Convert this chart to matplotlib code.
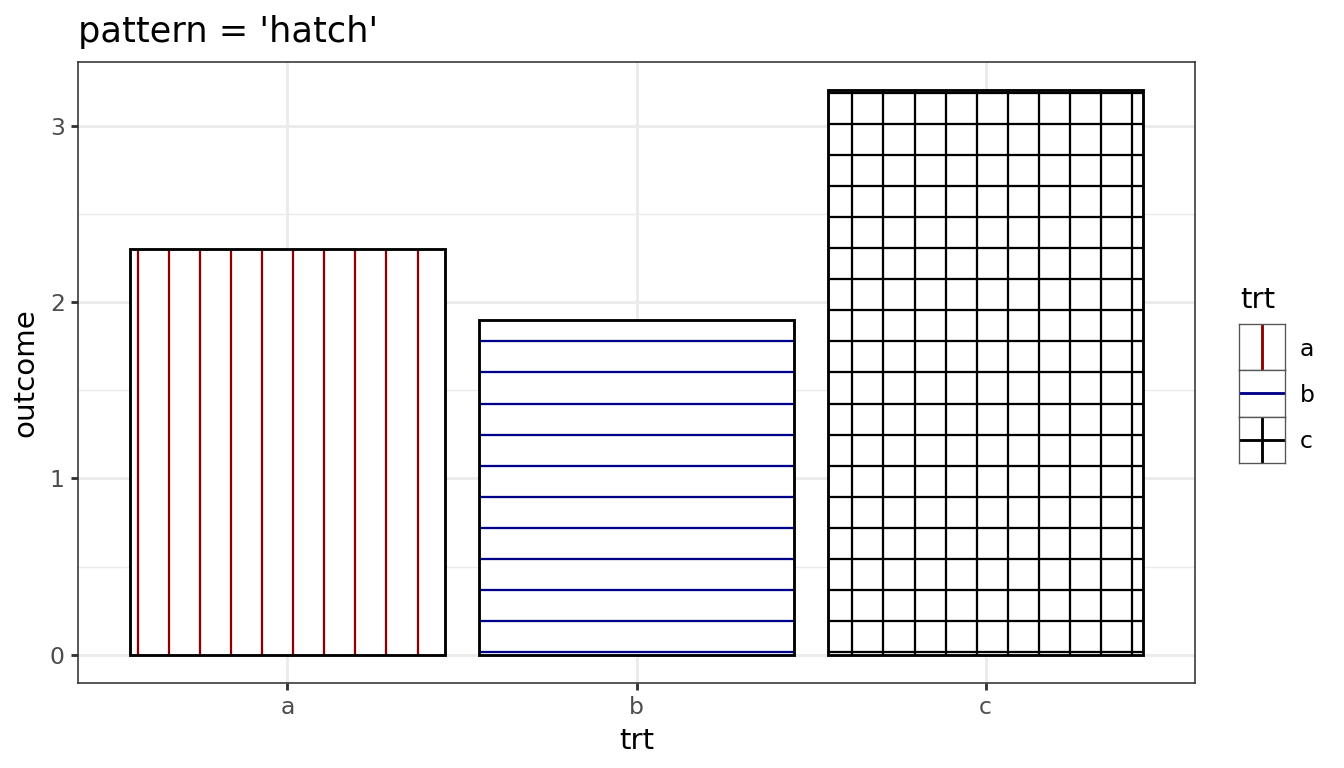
import matplotlib
matplotlib.use("Agg")
import matplotlib.pyplot as plt
import numpy as np
from matplotlib.patches import Rectangle

categories = ["a", "b", "c"]
outcome = [2.3, 1.9, 3.2]
hatch_kind = ["vertical", "horizontal", "grid"]
hatch_colors = ["#8B0000", "#00008B", "#000000"]
y_ticks = [0, 1, 2, 3]

plt.rcParams['font.family'] = ['DejaVu Sans']
DPI = 192
fig = plt.figure(figsize=(7, 4), dpi=DPI)
W, H = 1344, 768
ax = fig.add_axes([78 / W, (H - 683) / H, (1195 - 78) / W, (683 - 62) / H])

x = np.arange(1, len(categories) + 1)
width = 0.9
ax.set_xlim(0.4, 3.6)
ax.set_ylim(-0.16, 3.36)

# grid
ax.set_axisbelow(True)
ax.set_yticks(y_ticks)
ax.set_yticks([0.5, 1.5, 2.5], minor=True)
ax.set_xticks(x)
ax.set_xticklabels(categories)
ax.grid(True, which='major', color='#EBEBEB', linewidth=1.07)
ax.grid(True, which='minor', axis='y', color='#EBEBEB', linewidth=0.53)
ax.tick_params(axis='both', which='minor', length=0)
ax.tick_params(axis='both', which='major', length=2.75, width=1.07, color='#333333',
               labelsize=8.8, labelcolor='#4D4D4D', pad=2.2)
for s in ax.spines.values():
    s.set_color('#333333')
    s.set_linewidth(0.6)

bars = ax.bar(x, outcome, width=width, facecolor='white', edgecolor='none', zorder=2)

# hatch lines drawn in a global pixel-aligned grid
fig.canvas.draw()
spacing = 31.06 * DPI / 192.0
phase_x = 138.0
phase_y = H - 652.0
inv = ax.transData.inverted()
hatch_lw = 0.85
for bar, kind, col in zip(bars, hatch_kind, hatch_colors):
    x0, y0 = bar.get_x(), bar.get_y()
    x1, y1 = x0 + bar.get_width(), y0 + bar.get_height()
    (px0, py0) = ax.transData.transform((x0, y0))
    (px1, py1) = ax.transData.transform((x1, y1))
    if kind in ("vertical", "grid"):
        k0 = int(np.ceil((px0 - phase_x) / spacing))
        k1 = int(np.floor((px1 - phase_x) / spacing))
        for k in range(k0, k1 + 1):
            px = phase_x + k * spacing
            if px0 + 1 < px < px1 - 1:
                dx = inv.transform((px, py0))[0]
                ax.plot([dx, dx], [y0, y1], color=col, lw=hatch_lw, zorder=3,
                        solid_capstyle='butt')
    if kind in ("horizontal", "grid"):
        k0 = int(np.ceil((py0 - phase_y) / spacing))
        k1 = int(np.floor((py1 - phase_y) / spacing))
        for k in range(k0, k1 + 1):
            py = phase_y + k * spacing
            if py0 < py < py1:
                dy = inv.transform((px0, py))[1]
                ax.plot([x0, x1], [dy, dy], color=col, lw=hatch_lw, zorder=3,
                        solid_capstyle='butt')
    ax.add_patch(Rectangle((x0, y0), x1 - x0, y1 - y0, facecolor='none',
                           edgecolor='black', linewidth=1.07, zorder=4,
                           joinstyle='miter'))

ax.set_xlabel('trt', fontsize=11, labelpad=3)
ax.set_ylabel('outcome', fontsize=11, labelpad=4)
ax.set_title("pattern = 'hatch'", loc='left', fontsize=13.2, pad=7.5)

# legend
fig.text(1240 / W, 1 - 300 / H, 'trt', fontsize=11, ha='left', va='center')
key_w, key_h = 46, 46.3
for i, (lab, kind, col) in enumerate(zip(categories, hatch_kind, hatch_colors)):
    top = 324 + i * key_h
    kax = fig.add_axes([1239 / W, 1 - (top + key_h) / H, key_w / W, key_h / H])
    kax.set_xlim(0, 1)
    kax.set_ylim(0, 1)
    kax.set_xticks([])
    kax.set_yticks([])
    for s in kax.spines.values():
        s.set_color('#555555')
        s.set_linewidth(0.5)
    if kind in ("vertical", "grid"):
        kax.plot([0.5, 0.5], [0, 1], color=col, lw=1.07, solid_capstyle='butt')
    if kind in ("horizontal", "grid"):
        kax.plot([0, 1], [0.5, 0.5], color=col, lw=1.07, solid_capstyle='butt')
    fig.text(1300 / W, 1 - (top + key_h / 2 + 2) / H, lab, fontsize=8.8,
             ha='left', va='center')

fig.savefig('out.png', dpi=DPI)
